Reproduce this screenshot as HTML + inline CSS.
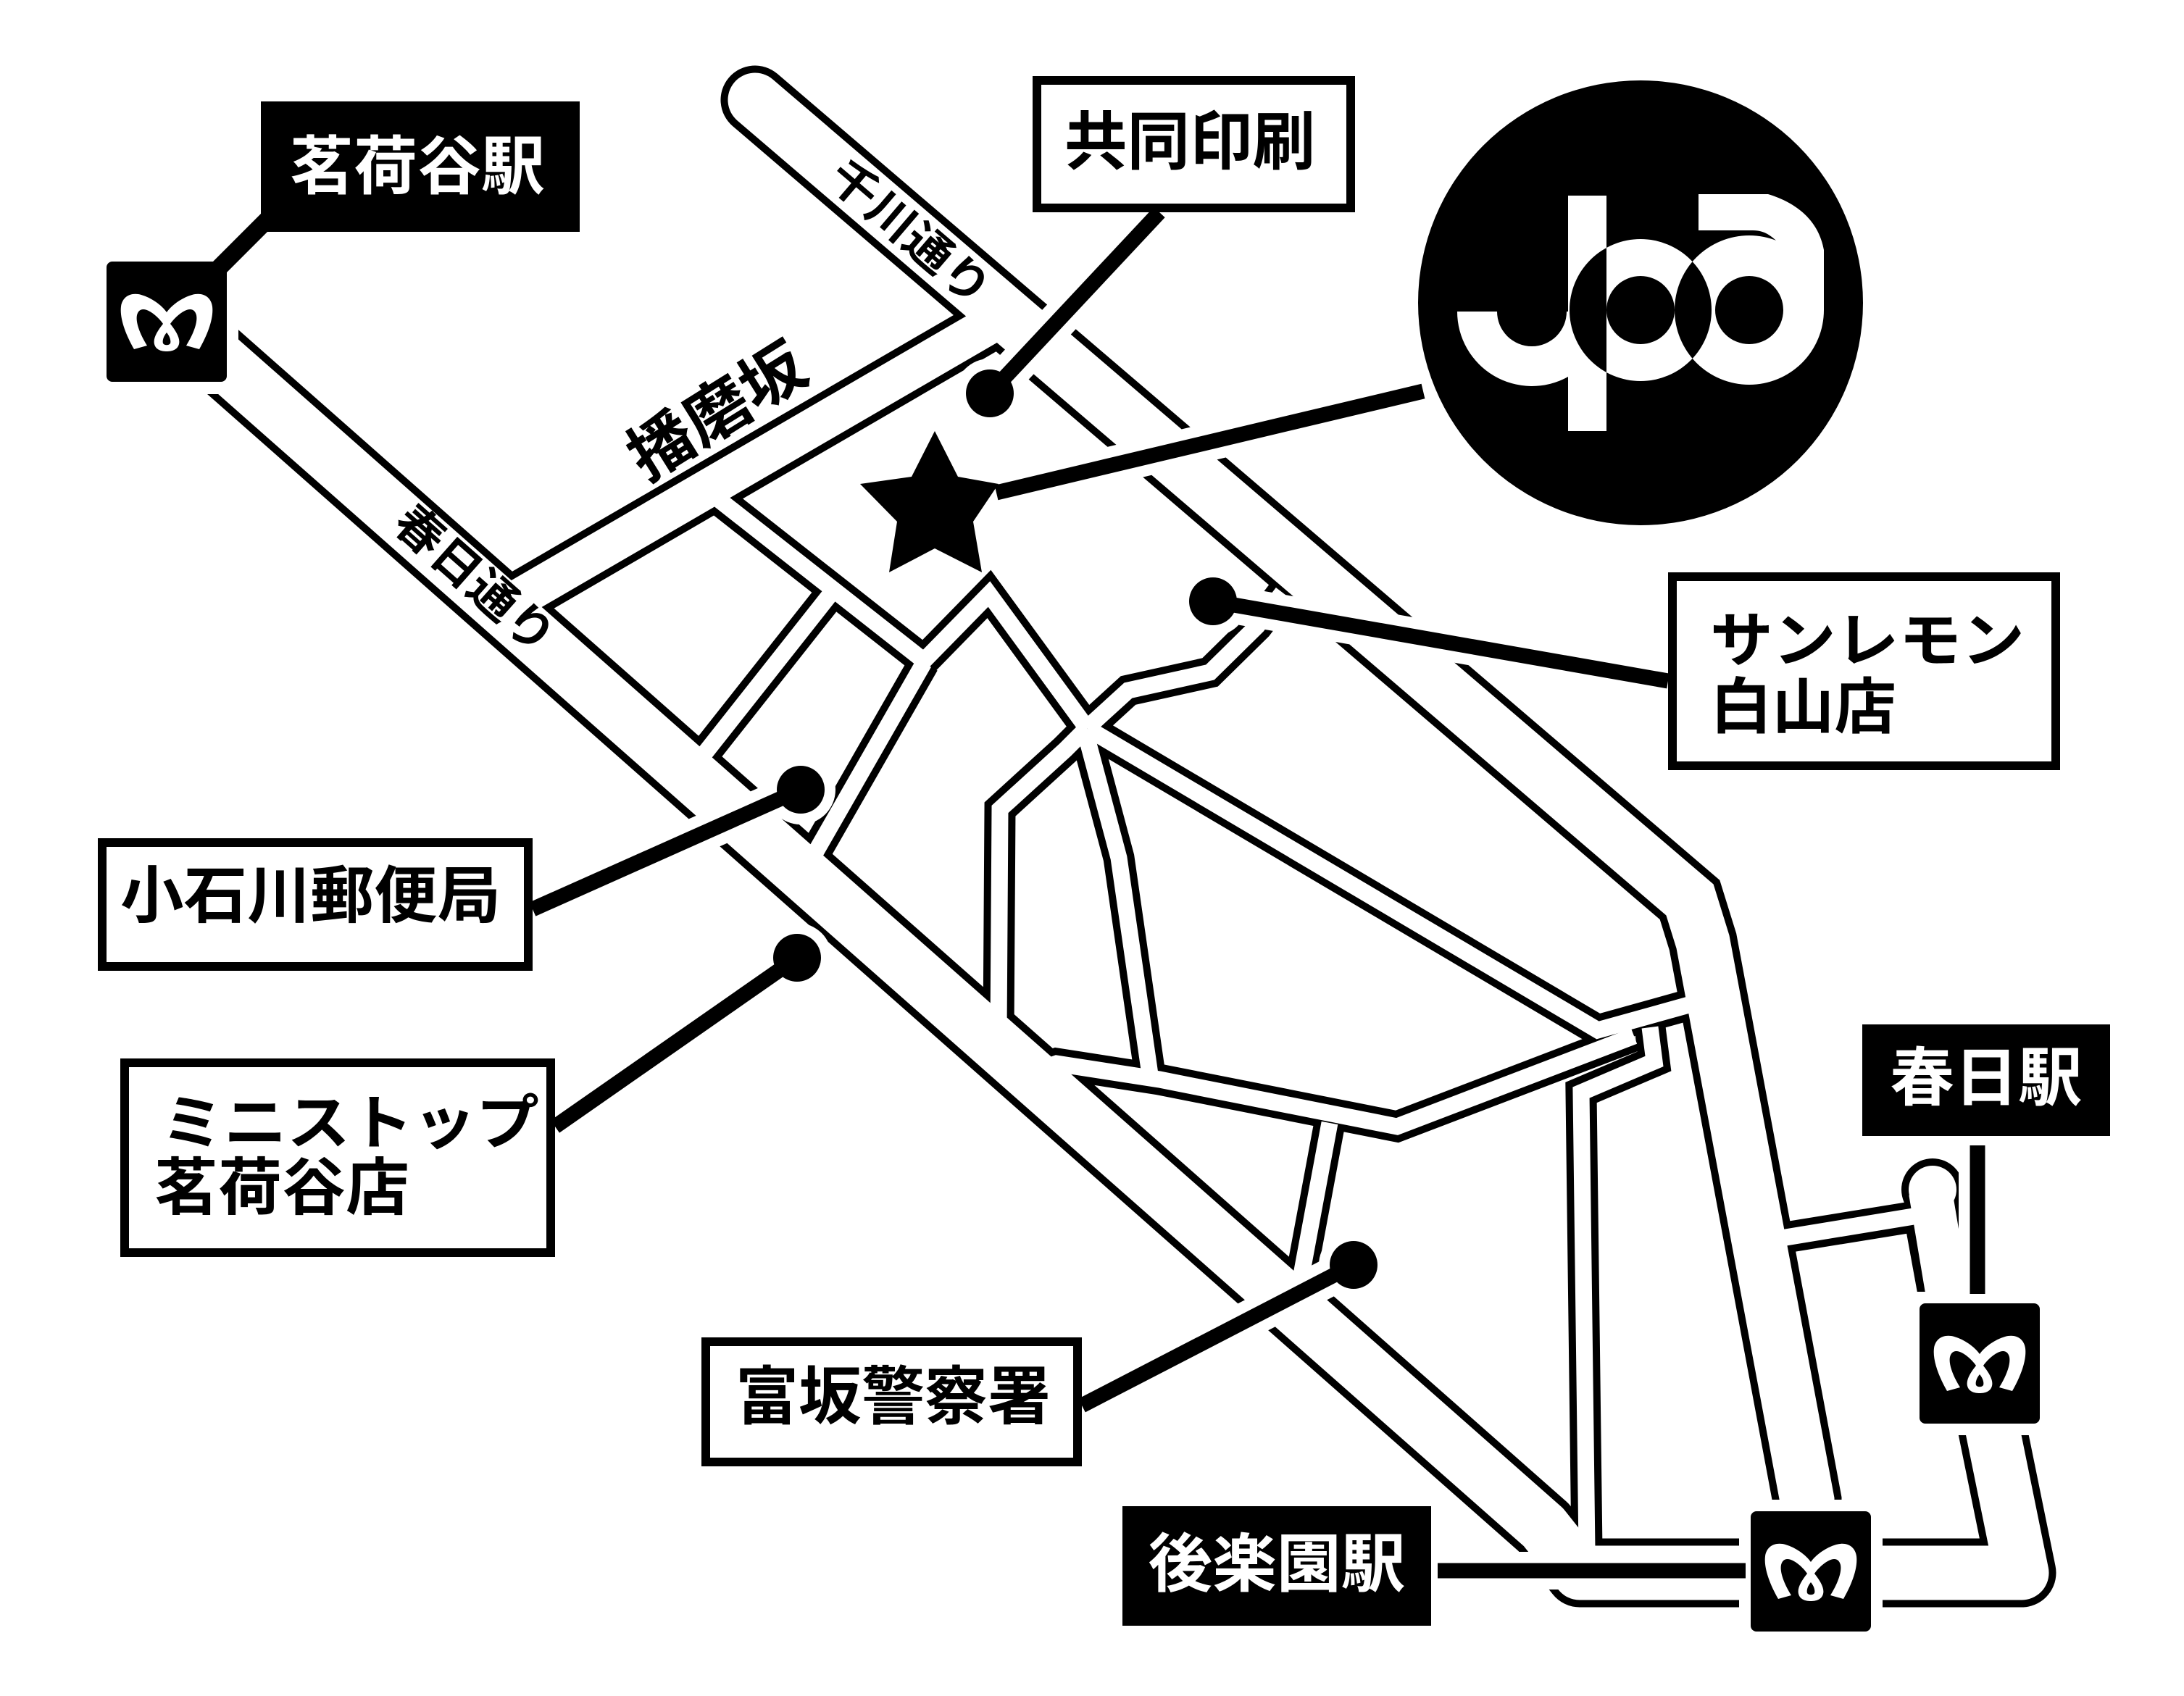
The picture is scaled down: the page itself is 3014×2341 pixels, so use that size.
<!DOCTYPE html>
<html><head><meta charset="utf-8"><style>
html,body{margin:0;padding:0;background:#fff;}
svg{display:block;}
text{font-family:"Liberation Sans","Noto Sans CJK JP",sans-serif;font-weight:bold;}
</style></head><body>
<svg width="3014" height="2341" viewBox="0 0 3014 2341" xmlns="http://www.w3.org/2000/svg">
<rect width="3014" height="2341" fill="#fff"/>
<!-- roads black -->
<g fill="none" stroke="#000" stroke-linejoin="miter">
 <path d="M1042,138 L2332,1242 L2350,1300 L2494,2071 L2494,2180" stroke-width="95" stroke-linecap="round"/>
 <path d="M240,440 L2130,2108 L2180,2171 L2790,2171 L2745,1950" stroke-width="95" stroke-linejoin="round"/>
 <path d="M700,835 L1385,437" stroke-width="73"/>
 <g stroke-width="43">
  <path d="M1150,815 L955,1062"/>
  <path d="M990,688 L1275,912 L1365,820 L1500,1005"/>
  <path d="M1275,915 L1105,1212"/>
  <path d="M1770,818 L1735,864 L1670,928 L1557,953 L1500,1005"/>
  <path d="M1500,1005 L1470,1035 L1380,1117 L1378,1425"/>
  <path d="M1497,1008 L1544,1184 L1588,1490"/>
  <path d="M1505,1008 L2205,1422 L2345,1383"/>
  <path d="M2255,1430 L1928,1555 L1600,1490 L1458,1468 L1430,1478"/>
  <path d="M1835,1550 L1795,1765 L1790,1800"/>
  <path d="M2277,1418 L2283,1465 L2182,1508 L2190,2140"/>
  <path d="M2440,1712 L2650,1678"/>
 </g>
 <circle cx="2667" cy="1642" r="43" fill="#000" stroke="none"/>
 <path d="M2664,1660 L2695,1830" stroke-width="80"/>
</g>
<!-- roads white -->
<g fill="none" stroke="#fff" stroke-linejoin="miter">
 <path d="M1042,138 L2332,1242 L2350,1300 L2494,2071 L2494,2180" stroke-width="75" stroke-linecap="round"/>
 <path d="M240,440 L2130,2108 L2180,2171 L2790,2171 L2745,1950" stroke-width="75" stroke-linejoin="round"/>
 <path d="M700,835 L1385,437" stroke-width="53"/>
 <g stroke-width="23">
  <path d="M1150,815 L955,1062"/>
  <path d="M990,688 L1275,912 L1365,820 L1500,1005"/>
  <path d="M1275,915 L1105,1212"/>
  <path d="M1770,818 L1735,864 L1670,928 L1557,953 L1500,1005"/>
  <path d="M1500,1005 L1470,1035 L1380,1117 L1378,1425"/>
  <path d="M1497,1008 L1544,1184 L1588,1490"/>
  <path d="M1505,1008 L2205,1422 L2345,1383"/>
  <path d="M2255,1430 L1928,1555 L1600,1490 L1458,1468 L1430,1478"/>
  <path d="M1835,1550 L1795,1765 L1790,1800"/>
  <path d="M2277,1418 L2283,1465 L2182,1508 L2190,2140"/>
  <path d="M2440,1712 L2665,1675"/>
 </g>
 <circle cx="2667" cy="1642" r="33" fill="#fff" stroke="none"/>
 <path d="M2664,1645 L2695,1830" stroke-width="60"/>
</g>
<!-- road labels -->
<text x="0" y="0" font-size="62" text-anchor="middle" dominant-baseline="central" textLength="270" lengthAdjust="spacingAndGlyphs" transform="translate(1255,322) rotate(40.5)">千川通り</text>
<text x="0" y="0" font-size="88" text-anchor="middle" dominant-baseline="central" textLength="270" lengthAdjust="spacingAndGlyphs" transform="translate(990,568) rotate(-32)">播磨坂</text>
<text x="0" y="0" font-size="64" text-anchor="middle" dominant-baseline="central" textLength="270" lengthAdjust="spacingAndGlyphs" transform="translate(655,800) rotate(41.5)">春日通り</text>
<!-- halos -->
<g stroke="#fff" stroke-width="52" fill="none">
 <path d="M1600,293 L1366,543"/>
 <path d="M1375,680 L1964,540"/>
 <path d="M1674,830 L2302,940"/>
 <path d="M1105,1090 L735,1255"/>
 <path d="M1100,1322 L766,1555"/>
 <path d="M1868,1746 L1493,1940"/>
 <path d="M1984,2168 L2409,2168"/>
 <path d="M2729,1581 L2729,1786"/>
 <path d="M305,368 L370,305"/>
</g>
<g fill="#fff">
 <circle cx="1366" cy="543" r="48"/><circle cx="1674" cy="830" r="48"/>
 <circle cx="1105" cy="1090" r="48"/><circle cx="1100" cy="1322" r="48"/>
 <circle cx="1868" cy="1746" r="48"/>
 <rect x="131" y="346" width="198" height="198"/>
 <rect x="2633" y="1783" width="198" height="198"/>
 <rect x="2400" y="2070" width="198" height="198"/>
</g>
<!-- leaders -->
<g stroke="#000" stroke-width="21" fill="none">
 <path d="M1600,293 L1366,543"/>
 <path d="M1375,680 L1964,540"/>
 <path d="M1674,830 L2302,940"/>
 <path d="M1105,1090 L735,1255"/>
 <path d="M1100,1322 L766,1555"/>
 <path d="M1868,1746 L1493,1940"/>
 <path d="M1984,2168 L2409,2168"/>
 <path d="M2729,1581 L2729,1786"/>
 <path d="M300,372 L372,300" stroke-width="24"/>
</g>
<g fill="#000">
 <circle cx="1366" cy="543" r="33"/><circle cx="1674" cy="830" r="33"/>
 <circle cx="1105" cy="1090" r="33"/><circle cx="1100" cy="1322" r="33"/>
 <circle cx="1868" cy="1746" r="33"/>
 <polygon points="1290,595 1322,658 1378,668 1343,720 1355,790 1290,757 1227,790 1238,720 1187,668 1258,658"/>
</g>
<!-- metro boxes -->
<defs>
 <g id="metro">
  <rect x="0" y="0" width="166" height="166" rx="8" fill="#000"/>
  <path fill="#fff" fill-rule="evenodd" d="M38,121 C26,100 18,78 20,62 C22,48 34,42 48,46 C62,50 76,60 83,70 C90,60 104,50 118,46 C132,42 144,48 146,62 C148,78 140,100 128,121 L110,116 C120,100 126,84 124,74 C122,66 116,64 108,68 C100,72 92,80 88,86 C96,96 102,106 100,114 C98,122 90,124 83,124 C76,124 68,122 66,114 C64,106 70,96 78,86 C74,80 66,72 58,68 C50,64 44,66 42,74 C40,84 46,100 56,116 Z M83,98 C78,104 77,110 78,113 C80,116 86,116 88,113 C89,110 88,104 83,98 Z"/>
 </g>
</defs>
<use href="#metro" x="147" y="361"/>
<use href="#metro" x="2649" y="1799"/>
<use href="#metro" x="2416" y="2086"/>
<!-- black station labels -->
<rect x="360" y="140" width="440" height="180" fill="#000"/>
<text x="576" y="230" font-size="88" fill="#fff" text-anchor="middle" dominant-baseline="central" textLength="352" lengthAdjust="spacingAndGlyphs">茗荷谷駅</text>
<rect x="1549" y="2079" width="426" height="165" fill="#000"/>
<text x="1762" y="2159" font-size="88" fill="#fff" text-anchor="middle" dominant-baseline="central" textLength="355" lengthAdjust="spacingAndGlyphs">後楽園駅</text>
<rect x="2570" y="1414" width="342" height="154" fill="#000"/>
<text x="2741" y="1488" font-size="88" fill="#fff" text-anchor="middle" dominant-baseline="central" textLength="265" lengthAdjust="spacingAndGlyphs">春日駅</text>
<!-- white label boxes -->
<g fill="#fff" stroke="#000" stroke-width="12">
 <rect x="1431" y="111" width="433" height="176"/>
 <rect x="2308" y="796" width="529" height="261"/>
 <rect x="141" y="1163" width="588" height="171"/>
 <rect x="172" y="1467" width="588" height="262"/>
 <rect x="974" y="1852" width="513" height="166"/>
</g>
<g fill="#000" dominant-baseline="central">
 <text x="1469" y="196" font-size="88" textLength="346" lengthAdjust="spacingAndGlyphs">共同印刷</text>
 <text x="2360" y="885" font-size="82" textLength="434" lengthAdjust="spacingAndGlyphs">サンレモン</text>
 <text x="2360" y="976" font-size="84" textLength="257" lengthAdjust="spacingAndGlyphs">白山店</text>
 <text x="166" y="1237" font-size="86" textLength="525" lengthAdjust="spacingAndGlyphs">小石川郵便局</text>
 <text x="222" y="1551" font-size="82" textLength="522" lengthAdjust="spacingAndGlyphs">ミニストップ</text>
 <text x="213" y="1640" font-size="86" textLength="352" lengthAdjust="spacingAndGlyphs">茗荷谷店</text>
 <text x="1015" y="1928" font-size="88" textLength="435" lengthAdjust="spacingAndGlyphs">富坂警察署</text>
</g>
<!-- JPA logo -->
<circle cx="2264" cy="418" r="307" fill="#000"/>
<path fill="#fff" fill-rule="evenodd" d="
 M2164,270 H2217 V595 H2164 Z
 M2011,430 H2066 A48,48 0 0 0 2162,430 L2164,430 L2164,520 A103,103 0 0 1 2011,430 Z
 M2362,428 A98,98 0 1 0 2166,428 A98,98 0 1 0 2362,428 Z M2311,428 A47,47 0 1 0 2217,428 A47,47 0 1 0 2311,428 Z
 M2517,428 A103,103 0 1 0 2311,428 A103,103 0 1 0 2517,428 Z M2461,428 A47,47 0 1 0 2367,428 A47,47 0 1 0 2461,428 Z"/>
<path fill="#fff" d="M2344,268 H2440 C2480,280 2510,305 2517,345 V428 H2461 L2459,340 C2445,325 2435,318 2419,318 H2344 Z"/>
</svg>
</body></html>
